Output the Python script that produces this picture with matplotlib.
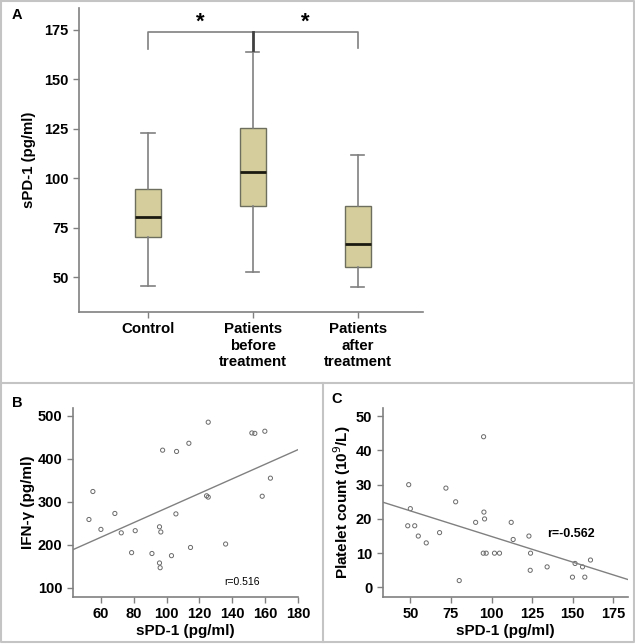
import numpy as np
import matplotlib.pyplot as plt
from matplotlib.lines import Line2D

plt.rcParams['font.family'] = ['Liberation Sans', 'DejaVu Sans']

# Panel A box statistics (pg/ml)
groups = ['Control', 'Patients\nbefore\ntreatment', 'Patients\nafter\ntreatment']
whislo = [45.5, 52.5, 45.0]
q1 = [70.0, 86.0, 55.0]
med = [80.5, 103.0, 66.5]
q3 = [94.5, 125.5, 86.0]
whishi = [123.0, 163.5, 111.5]

# Panel B: sPD-1 vs IFN-gamma
b_spd1 = [52.7, 55.1, 60.0, 68.5, 72.4, 78.7, 80.9, 91.1, 95.7, 96.5, 95.7, 96.1, 97.6, 103.0,
          105.7, 106.1, 113.6, 114.6, 124.4, 125.4, 125.4, 136.0, 152.0, 153.8, 158.3, 159.9, 163.3]
b_ifn = [259, 324, 236, 273, 228, 182, 233, 180, 242, 230, 158, 147, 420, 175,
         272, 417, 436, 194, 314, 311, 485, 202, 460, 459, 313, 464, 355]
b_fit_x = [43, 180]
b_fit_y = [189, 421]

# Panel C: sPD-1 vs platelet count
c_spd1 = [49.0, 50.0, 48.4, 52.7, 54.9, 59.8, 68.0, 71.9, 77.9, 80.1, 90.2, 95.1, 95.3, 95.7,
          94.9, 96.7, 101.8, 104.9, 112.1, 113.3, 123.0, 124.0, 123.8, 134.2, 149.8, 151.4,
          156.0, 157.4, 160.9]
c_plt = [30, 23, 18, 18, 15, 13, 16, 29, 25, 2, 19, 44, 22, 20,
         10, 10, 10, 10, 19, 14, 15, 10, 5, 6, 3, 7, 6, 3, 8]
c_fit_x = [33, 184]
c_fit_y = [24.9, 2.3]

gray = '#808080'
boxcol = '#d5ce9c'

fig = plt.figure(figsize=(6.35, 6.44), dpi=100)

# frame and separators
frame_kw = dict(color='#c4c4c4', lw=1.5, transform=fig.transFigure)
fig.add_artist(Line2D([0.002, 0.998, 0.998, 0.002, 0.002], [0.998, 0.998, 0.003, 0.003, 0.998], **frame_kw))
fig.add_artist(Line2D([0.002, 0.998], [1 - 383 / 644, 1 - 383 / 644], **frame_kw))
fig.add_artist(Line2D([323 / 635, 323 / 635], [0.003, 1 - 383 / 644], **frame_kw))


def style(ax):
    for s in ['top', 'right']:
        ax.spines[s].set_visible(False)
    for s in ['left', 'bottom']:
        ax.spines[s].set_color(gray)
        ax.spines[s].set_linewidth(1.2)
    ax.tick_params(colors=gray, labelcolor='black', length=4, width=1)
    for lab in ax.get_xticklabels() + ax.get_yticklabels():
        lab.set_fontweight('bold')


# ---- A ----
axA = fig.add_axes([0.1244, 0.5155, 0.5416, 0.4721])
stats = []
for i in range(3):
    stats.append(dict(label=groups[i], whislo=whislo[i], q1=q1[i], med=med[i], q3=q3[i], whishi=whishi[i], fliers=[]))
axA.bxp(stats, positions=[1, 2, 3], widths=0.25, patch_artist=True,
        boxprops=dict(facecolor=boxcol, edgecolor='#6e6e5e', lw=1),
        medianprops=dict(color='#1a1a10', lw=2),
        whiskerprops=dict(color=gray, lw=1.2),
        capprops=dict(color=gray, lw=1.2), capwidths=0.125)
axA.set_xlim(0.343, 3.62)
axA.set_ylim(32.3, 186)
axA.set_yticks([50, 75, 100, 125, 150, 175])
axA.set_ylabel('sPD-1 (pg/ml)', fontsize=10.8, fontweight='bold', labelpad=6)
style(axA)
axA.tick_params(axis='x', labelsize=10.8, pad=3.5)
axA.tick_params(axis='y', labelsize=10.5)
for lab in axA.get_xticklabels():
    lab.set_linespacing(1.22)
# significance bracket
axA.plot([1, 1, 3, 3], [165.5, 174, 174, 166], color=gray, lw=1.2)
axA.plot([2, 2], [174, 165], color='#404040', lw=2)
axA.text(1.5, 179, '*', ha='center', va='center', fontsize=16, fontweight='bold')
axA.text(2.5, 179, '*', ha='center', va='center', fontsize=16, fontweight='bold')
fig.text(12 / 635, 1 - 15 / 644, 'A', fontsize=10.5, fontweight='bold', va='center')

# ---- B ----
axB = fig.add_axes([0.115, 0.073, 0.354, 0.2935])
axB.scatter(b_spd1, b_ifn, s=9, facecolors='none', edgecolors='#6a6a6a', linewidths=0.7)
axB.plot(b_fit_x, b_fit_y, color=gray, lw=1)
axB.set_xlim(43, 180)
axB.set_ylim(79, 518)
axB.set_xticks([60, 80, 100, 120, 140, 160, 180])
axB.set_yticks([100, 200, 300, 400, 500])
axB.set_xlabel('sPD-1 (pg/ml)', fontsize=11, fontweight='bold', labelpad=2)
axB.set_ylabel('IFN-γ (pg/ml)', fontsize=11, fontweight='bold', labelpad=2)
style(axB)
axB.tick_params(labelsize=10.5)
axB.text(135, 113, 'r=0.516', fontsize=7.5, va='center')
fig.text(12 / 635, 1 - 403 / 644, 'B', fontsize=10.5, fontweight='bold', va='center')

# ---- C ----
axC = fig.add_axes([0.6027, 0.0735, 0.3863, 0.293])
axC.scatter(c_spd1, c_plt, s=9, facecolors='none', edgecolors='#6a6a6a', linewidths=0.7)
axC.plot(c_fit_x, c_fit_y, color=gray, lw=1)
axC.set_xlim(33, 184)
axC.set_ylim(-2.7, 52.4)
axC.set_xticks([50, 75, 100, 125, 150, 175])
axC.set_yticks([0, 10, 20, 30, 40, 50])
axC.set_xlabel('sPD-1 (pg/ml)', fontsize=11, fontweight='bold', labelpad=2)
axC.set_ylabel('Platelet count (10$^{9}$/L)', fontsize=11, fontweight='bold', labelpad=2)
style(axC)
axC.tick_params(labelsize=10.5)
axC.text(134, 15.5, 'r=-0.562', fontsize=9, fontweight='bold', va='center')
fig.text(331 / 635, 1 - 399 / 644, 'C', fontsize=10.5, fontweight='bold', va='center')

fig.savefig('out.png', dpi=100)
